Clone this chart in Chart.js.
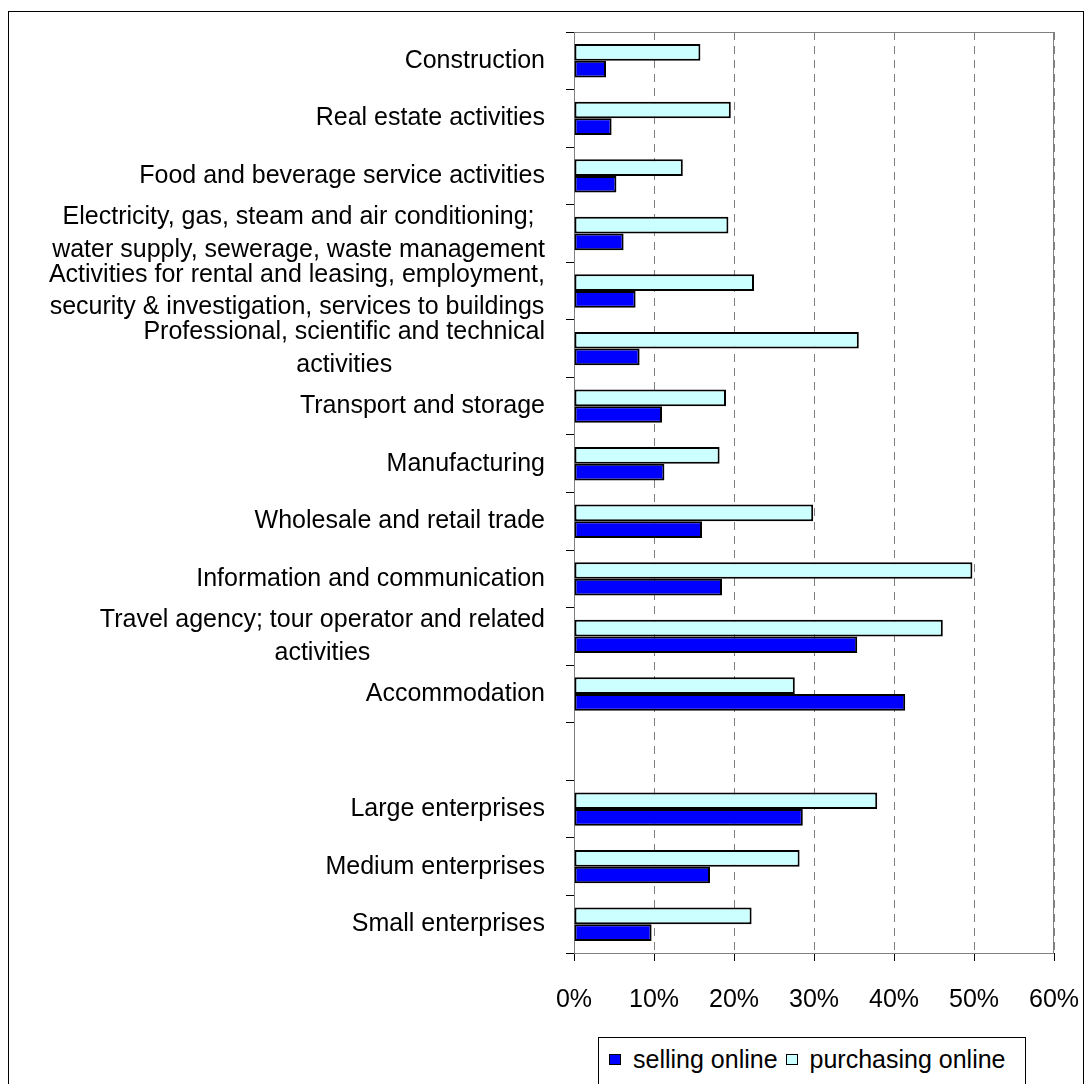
<!DOCTYPE html>
<html>
<head>
<meta charset="utf-8">
<script src="https://cdn.jsdelivr.net/npm/chart.js@4.4.1/dist/chart.umd.min.js"></script>
<style>
  html, body { margin: 0; padding: 0; background: #fff; overflow: hidden; }
  #wrap { position: relative; width: 1089px; height: 1084px; font-family: "Liberation Sans", Arial, sans-serif; }
  #chart { position: absolute; left: 0; top: 0; }
  #frame { position: absolute; left: 8px; top: 11px; width: 1074px; height: 1100px; border: 1px solid #000; pointer-events: none; }
  #legend { position: absolute; left: 598px; top: 1037px; width: 426px; height: 70px; border: 1px solid #000; background: #fff;
            display: flex; align-items: flex-start; font-size: 25px; color: #000; }
  #legend .item { display: flex; align-items: center; margin-top: 7px; }
  #legend .box { width: 10px; height: 9px; border: 1px solid #000; margin-right: 12px; }
</style>
</head>
<body>
<div id="wrap">
  <canvas id="chart" width="1089" height="1084"></canvas>
  <div id="frame"></div>
  <div id="legend"></div>
</div>
<script>
const categories = [
  "Construction",
  "Real estate activities",
  "Food and beverage service activities",
  "Electricity, gas, steam and air conditioning;\nwater supply, sewerage, waste management",
  "Activities for rental and leasing, employment,\nsecurity & investigation, services to buildings",
  "Professional, scientific and technical\nactivities",
  "Transport and storage",
  "Manufacturing",
  "Wholesale and retail trade",
  "Information and communication",
  "Travel agency; tour operator and related\nactivities",
  "Accommodation",
  "",
  "Large enterprises",
  "Medium enterprises",
  "Small enterprises"
];

// valeurs en %
const sellingOnline = [4.0, 4.7, 5.3, 6.2, 7.7, 8.2, 11.0, 11.3, 16.0, 18.5, 35.4, 41.4, null, 28.6, 17.0, 9.7];
const purchasingOnline = [15.8, 19.6, 13.6, 19.3, 22.5, 35.6, 19.0, 18.2, 29.9, 49.8, 46.1, 27.6, null, 37.9, 28.2, 22.2];

const xTickLabels = ["0%", "10%", "20%", "30%", "40%", "50%", "60%"];

const sellingColor = "#0000ff";
const purchasingColor = "#ccffff";
const fontFamily = '"Liberation Sans", Arial, sans-serif';

// Etiquettes de l'axe des catégories : bloc aligné à droite, lignes centrées
const yLabelPlugin = {
  id: "yLabels",
  afterDraw(chart) {
    const ctx = chart.ctx;
    const yScale = chart.scales.y;
    ctx.save();
    ctx.font = "25px " + fontFamily;
    ctx.fillStyle = "#000";
    ctx.textBaseline = "middle";
    ctx.textAlign = "center";
    categories.forEach((label, i) => {
      if (!label) return;
      const lines = label.split("\n");
      const w = Math.max(...lines.map((l) => ctx.measureText(l).width));
      const right = yScale.right - 29;
      const cy = yScale.getPixelForValue(i);
      lines.forEach((l, j) => {
        ctx.fillText(l, right - w / 2, cy + (j - (lines.length - 1) / 2) * 32.5);
      });
    });
    ctx.restore();
  }
};

// Bordure grise de la zone de traçage
const plotBorderPlugin = {
  id: "plotBorder",
  beforeDatasetsDraw(chart) {
    const { ctx, chartArea } = chart;
    ctx.save();
    ctx.strokeStyle = "#808080";
    ctx.lineWidth = 1;
    ctx.strokeRect(chartArea.left + 0.5, chartArea.top + 0.5, chartArea.width - 1, chartArea.height);
    ctx.restore();
  }
};

const ctx = document.getElementById("chart").getContext("2d");
new Chart(ctx, {
  type: "bar",
  data: {
    labels: categories,
    datasets: [
      {
        label: "purchasing online",
        data: purchasingOnline,
        backgroundColor: purchasingColor,
        borderColor: "#000",
        borderWidth: 2,
        borderSkipped: false
      },
      {
        label: "selling online",
        data: sellingOnline,
        backgroundColor: sellingColor,
        borderColor: "#000",
        borderWidth: 2,
        borderSkipped: false
      }
    ]
  },
  options: {
    indexAxis: "y",
    responsive: false,
    animation: false,
    categoryPercentage: 0.58,
    barPercentage: 1.0,
    layout: { padding: { top: 32, right: 35, bottom: 0, left: 0 } },
    plugins: {
      legend: { display: false },
      tooltip: { enabled: false }
    },
    scales: {
      x: {
        min: 0,
        max: 60,
        ticks: {
          stepSize: 10,
          color: "#000",
          padding: 24,
          font: { family: fontFamily, size: 25 },
          callback: (v, i) => xTickLabels[i]
        },
        grid: {
          color: "#808080",
          lineWidth: 1,
          tickColor: "#000",
          tickLength: 8
        },
        border: { color: "#000", width: 1, dash: [8, 6] },
        afterFit: (s) => {
          s.height = 131;
          s.paddingLeft = 0;
          s.paddingRight = 0;
        }
      },
      y: {
        ticks: { display: false },
        grid: {
          offset: true,
          drawOnChartArea: false,
          tickColor: "#000",
          tickLength: 8
        },
        border: { color: "#000", width: 1 },
        afterFit: (s) => { s.width = 574; }
      }
    }
  },
  plugins: [plotBorderPlugin, yLabelPlugin]
});

// Légende (même ordre que l'original)
const legendEl = document.getElementById("legend");
[["selling online", sellingColor], ["purchasing online", purchasingColor]].forEach(([name, color], i) => {
  const item = document.createElement("div");
  item.className = "item";
  item.style.marginLeft = i === 0 ? "10px" : "8px";
  item.innerHTML = '<span class="box" style="background:' + color + '"></span><span>' + name + "</span>";
  legendEl.appendChild(item);
});
</script>
</body>
</html>
